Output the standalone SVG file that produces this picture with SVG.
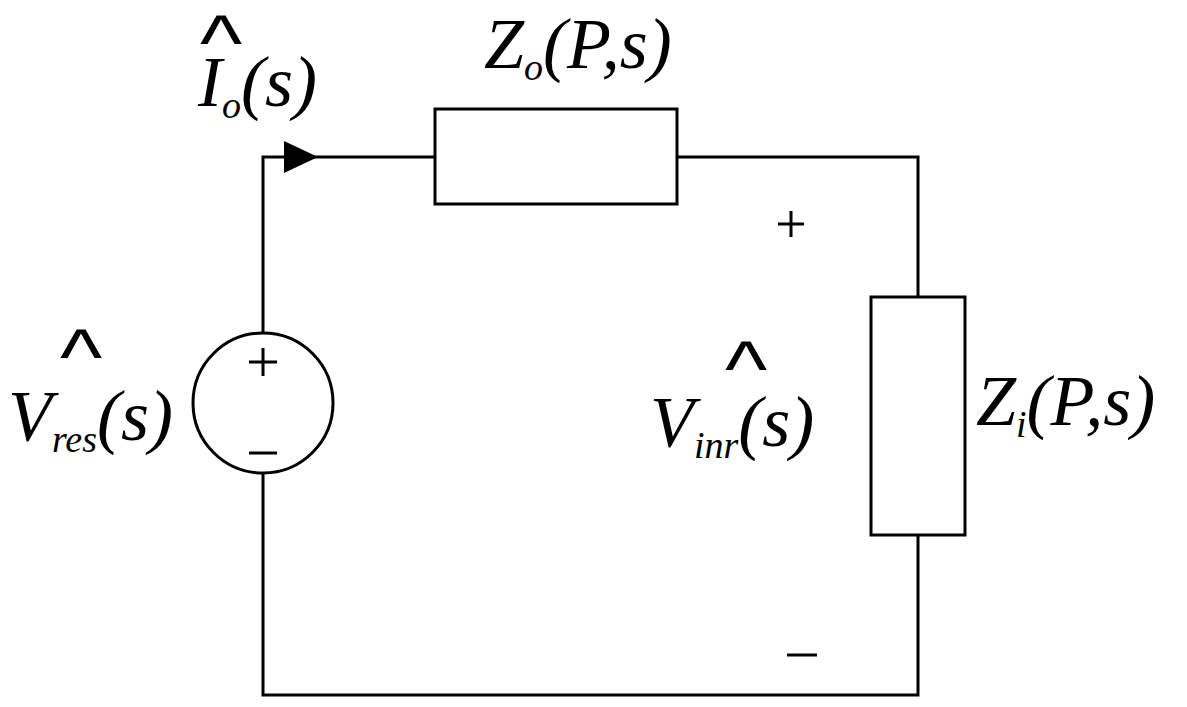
<svg xmlns="http://www.w3.org/2000/svg" width="1187" height="707" viewBox="0 0 1187 707">
<style>
.w{stroke:#000;stroke-width:3;fill:none}
.t{font-family:"Liberation Serif",serif;font-style:italic;fill:#000}
.b{font-size:72px}
.s{font-size:38px}
.h{font-family:"Liberation Sans",sans-serif;fill:#000;font-size:100px}
</style>
<rect width="1187" height="707" fill="#fff"/>
<g id="wires">
<polyline class="w" points="263,333 263,157 435,157"/>
<polyline class="w" points="677,157 918,157 918,297"/>
<polyline class="w" points="918,535 918,695 263,695 263,473"/>
<polygon points="284,141 318,157 284,173" fill="#000"/>
</g>
<g id="source">
<circle class="w" cx="263" cy="403" r="70"/>
<path class="w" d="M249,362h28M263,348v28M249,453h28"/>
</g>
<g id="Zo"><rect class="w" x="435" y="109" width="242" height="95"/></g>
<g id="Zi"><rect class="w" x="871" y="297" width="94" height="238"/></g>
<g id="labels">
<text class="t b" x="484" y="68">Z<tspan class="s" dy="12">o</tspan><tspan dy="-12">(P,s)</tspan></text>
<text class="t b" x="198" y="106">I<tspan class="s" dy="12">o</tspan><tspan dy="-12">(s)</tspan></text>
<text class="h" transform="translate(200,70) scale(0.9,0.8)">^</text>
<text class="t b" x="8" y="440">V<tspan class="s" dy="12">res</tspan><tspan dy="-12">(s)</tspan></text>
<text class="h" transform="translate(60,384) scale(0.9,0.8)">^</text>
<text class="t b" x="650" y="446">V<tspan class="s" dy="12">inr</tspan><tspan dy="-12">(s)</tspan></text>
<text class="h" transform="translate(725,396) scale(0.9,0.8)">^</text>
<text class="t b" x="976" y="425">Z<tspan class="s" dy="12">i</tspan><tspan dy="-12">(P,s)</tspan></text>
<path class="w" d="M778,224h26M791,211v26M787,655h30"/>
</g>
</svg>
